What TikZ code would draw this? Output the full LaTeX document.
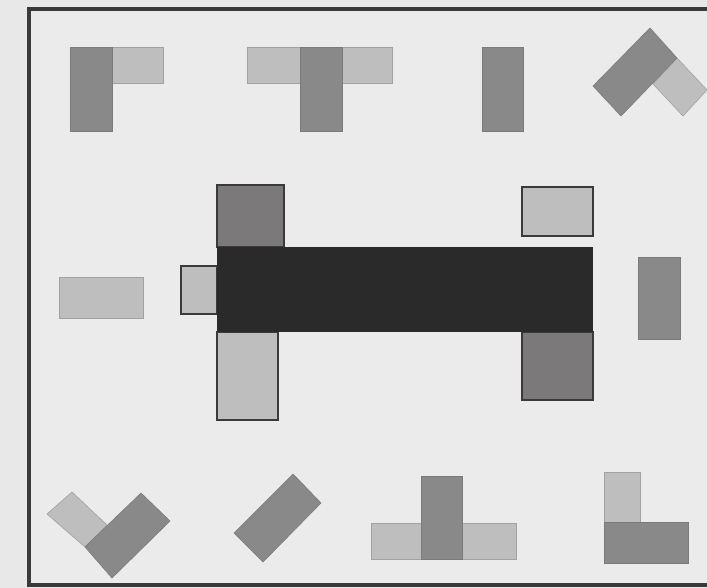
\documentclass[tikz,border=0pt]{standalone}
\begin{document}
\begin{tikzpicture}[x=1pt,y=-1pt,
  midg/.style={fill=gmid,draw=gmid!90!black,line width=0.6pt},
  ltg/.style={fill=glt,draw=glt!85!black,line width=0.6pt},
  ltb/.style={fill=glt,draw=gborder,line width=1.2pt},
  dmb/.style={fill=gdm,draw=gborder,line width=1.2pt},
  blk/.style={fill=gblk,draw=none}]
\definecolor{gbg}{HTML}{E8E8E8}
\definecolor{gin}{HTML}{EBEBEB}
\definecolor{gmid}{HTML}{898989}
\definecolor{glt}{HTML}{BEBEBE}
\definecolor{gdm}{HTML}{7B7979}
\definecolor{gblk}{HTML}{2A2A2A}
\definecolor{gborder}{HTML}{3A3A3A}
\useasboundingbox (0,0) rectangle (707,588);
\fill[gbg] (0,0) rectangle (707,588);
\fill[gin] (29,9) rectangle (710,585);
\draw[gborder,line width=3.5pt] (710,9) -- (29,9) -- (29,585) -- (710,585);
% top row
\draw[ltg] (112,47) rectangle (163,83);
\draw[midg] (70,47) rectangle (112,131);
\draw[ltg] (247,47) rectangle (300,83);
\draw[ltg] (342,47) rectangle (392,83);
\draw[midg] (300,47) rectangle (342,131);
\draw[midg] (482,47) rectangle (523,131);
\draw[ltg] (677,58) -- (707,90) -- (683,116) -- (653,84) -- cycle;
\draw[midg] (593,86) -- (650,28) -- (677,58) -- (621,116) -- cycle;
% middle
\draw[ltg] (59,277) rectangle (143,318);
\draw[ltb] (181,266) rectangle (217,314);
\draw[dmb] (217,185) rectangle (284,247);
\draw[ltb] (217,332) rectangle (278,420);
\draw[ltb] (522,187) rectangle (593,236);
\draw[dmb] (522,332) rectangle (593,400);
\fill[blk] (217,247) rectangle (593,332);
\draw[midg] (638,257) rectangle (680,339);
% bottom row
\draw[ltg] (47,514) -- (72,492) -- (107,525) -- (85,547) -- cycle;
\draw[midg] (85,547) -- (141,493) -- (170,521) -- (112,578) -- cycle;
\draw[midg] (234,533) -- (293,474) -- (321,503) -- (263,562) -- cycle;
\draw[ltg] (371,523) rectangle (421,559);
\draw[ltg] (462,523) rectangle (516,559);
\draw[midg] (421,476) rectangle (462,559);
\draw[ltg] (604,472) rectangle (640,522);
\draw[midg] (604,522) rectangle (688,563);
\end{tikzpicture}
\end{document}
